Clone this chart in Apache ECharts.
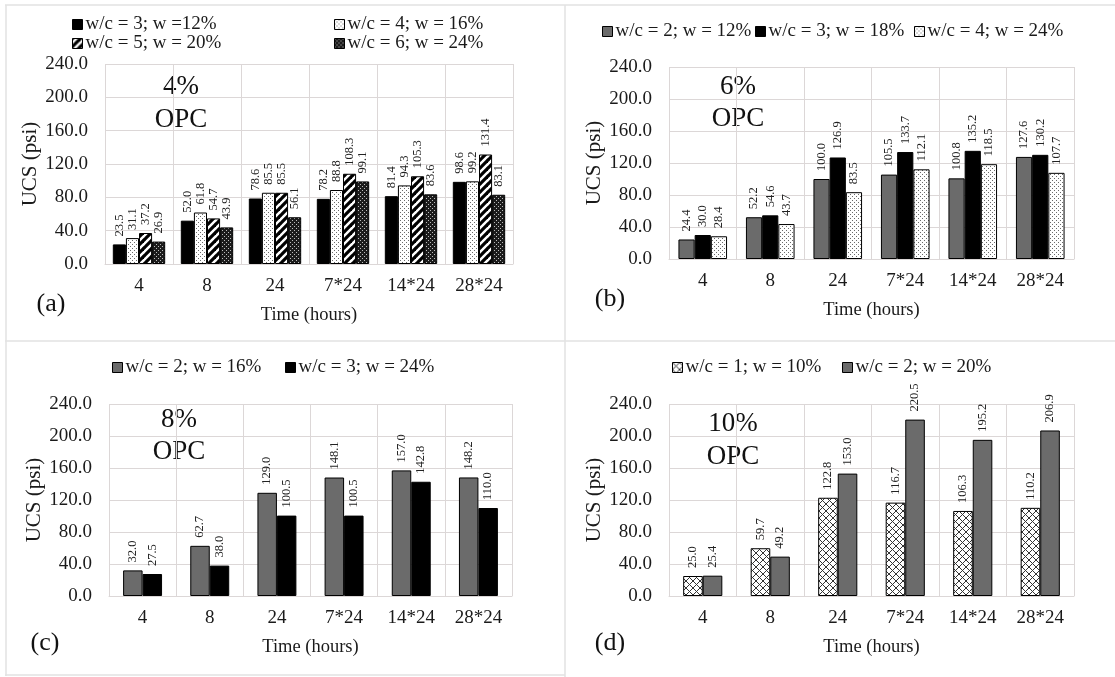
<!DOCTYPE html>
<html>
<head>
<meta charset="utf-8">
<script src="https://cdn.jsdelivr.net/npm/echarts@6/dist/echarts.min.js"></script>
<style>
html,body{margin:0;padding:0;background:#fff;}
#chart{width:1115px;height:677px;}
</style>
</head>
<body>
<div id="chart"></div>
<script>
// ---------- data ----------
const categories = ['4', '8', '24', '7*24', '14*24', '28*24'];
const yMin = 0, yMax = 240, yInterval = 40;

const a_names = ['w/c = 3; w =12%', 'w/c = 4; w = 16%', 'w/c = 5; w = 20%', 'w/c = 6; w = 24%'];
const a_wc3 = [23.5, 52.0, 78.6, 78.2, 81.4, 98.6];
const a_wc4 = [31.1, 61.8, 85.5, 88.8, 94.3, 99.2];
const a_wc5 = [37.2, 54.7, 85.5, 108.3, 105.3, 131.4];
const a_wc6 = [26.9, 43.9, 56.1, 99.1, 83.6, 83.1];

const b_names = ['w/c = 2; w = 12%', 'w/c = 3; w = 18%', 'w/c = 4; w = 24%'];
const b_wc2 = [24.4, 52.2, 100.0, 105.5, 100.8, 127.6];
const b_wc3 = [30.0, 54.6, 126.9, 133.7, 135.2, 130.2];
const b_wc4 = [28.4, 43.7, 83.5, 112.1, 118.5, 107.7];

const c_names = ['w/c = 2; w = 16%', 'w/c = 3; w = 24%'];
const c_wc2 = [32.0, 62.7, 129.0, 148.1, 157.0, 148.2];
const c_wc3 = [27.5, 38.0, 100.5, 100.5, 142.8, 110.0];

const d_names = ['w/c = 1; w = 10%', 'w/c = 2; w = 20%'];
const d_wc1 = [25.0, 59.7, 122.8, 116.7, 106.3, 110.2];
const d_wc2 = [25.4, 49.2, 153.0, 220.5, 195.2, 206.9];

const panelTitles = [['4%', 'OPC'], ['6%', 'OPC'], ['8%', 'OPC'], ['10%', 'OPC']];
const panelLetters = ['(a)', '(b)', '(c)', '(d)'];
const xName = 'Time (hours)';
const yName = 'UCS (psi)';

// ---------- patterns ----------
function pat(kind) {
  const c = document.createElement('canvas');
  const ctx = c.getContext('2d');
  if (kind === 'dots') {
    c.width = 4; c.height = 4;
    ctx.fillStyle = '#fff'; ctx.fillRect(0, 0, 4, 4);
    ctx.fillStyle = '#6a6a6a';
    ctx.fillRect(0, 0, 1, 1); ctx.fillRect(2, 2, 1, 1);
  } else if (kind === 'stripes') {
    c.width = 8; c.height = 8;
    ctx.fillStyle = '#fff'; ctx.fillRect(0, 0, 8, 8);
    ctx.strokeStyle = '#000'; ctx.lineWidth = 3.2;
    for (let o = -8; o <= 8; o += 8) {
      ctx.beginPath(); ctx.moveTo(o - 1, 9); ctx.lineTo(o + 9, -1); ctx.stroke();
    }
  } else if (kind === 'darkdots') {
    c.width = 4; c.height = 4;
    ctx.fillStyle = '#1c1c1c'; ctx.fillRect(0, 0, 4, 4);
    ctx.fillStyle = '#bdbdbd';
    ctx.fillRect(0, 0, 1, 1); ctx.fillRect(2, 2, 1, 1);
  } else if (kind === 'cross') {
    c.width = 7; c.height = 7;
    ctx.fillStyle = '#fff'; ctx.fillRect(0, 0, 7, 7);
    ctx.strokeStyle = '#333'; ctx.lineWidth = 1;
    for (let o = -7; o <= 7; o += 7) {
      ctx.beginPath(); ctx.moveTo(o, 7); ctx.lineTo(o + 7, 0); ctx.stroke();
      ctx.beginPath(); ctx.moveTo(o, 0); ctx.lineTo(o + 7, 7); ctx.stroke();
    }
  }
  return { image: c, repeat: 'repeat' };
}
const BLACK = '#000000';
const GRAY = '#6b6b6b';

const FONT = 'Liberation Serif';
const TXT = '#1a1a1a';
const gridLineColor = '#dcd7d7';

const grids = [
  { left: 105, top: 64, width: 408, height: 200 },
  { left: 669, top: 67, width: 405, height: 192 },
  { left: 109, top: 404, width: 403, height: 192 },
  { left: 669, top: 404, width: 405, height: 192 }
];

const xAxes = grids.map((g, i) => ({
  type: 'category', gridIndex: i, data: categories,
  name: xName, nameLocation: 'middle', nameGap: 42,
  nameTextStyle: { fontFamily: FONT, fontSize: 18.5, color: TXT },
  axisLine: { show: true, lineStyle: { color: gridLineColor } },
  axisTick: { show: false },
  axisLabel: { fontFamily: FONT, fontSize: 19, color: TXT, margin: 13 },
  splitLine: { show: true, lineStyle: { color: gridLineColor, width: 1 } }
}));
const yAxes = grids.map((g, i) => ({
  type: 'value', gridIndex: i, min: yMin, max: yMax, interval: yInterval,
  name: yName, nameLocation: 'middle', nameGap: 62,
  nameTextStyle: { fontFamily: FONT, fontSize: 21, color: TXT },
  axisLine: { show: false }, axisTick: { show: false },
  axisLabel: { fontFamily: FONT, fontSize: 19, color: TXT, margin: 17,
    formatter: v => v.toFixed(1) },
  splitLine: { show: true, lineStyle: { color: gridLineColor, width: 1 } }
}));

const labelCfg = {
  show: true, position: 'top', rotate: 90, align: 'left', verticalAlign: 'middle',
  distance: 8, fontFamily: FONT, fontSize: 12.5, color: '#222',
  formatter: p => p.value.toFixed(1)
};

function bar(name, data, gi, fill, gap) {
  return {
    type: 'bar', name, data, xAxisIndex: gi, yAxisIndex: gi,
    barGap: '0%', barCategoryGap: gap,
    itemStyle: { color: fill, borderColor: '#000', borderWidth: 1 },
    label: labelCfg, emphasis: { disabled: true }, animation: false
  };
}

const series = [
  bar(a_names[0], a_wc3, 0, BLACK, '23%'),
  bar(a_names[1], a_wc4, 0, pat('dots'), '23%'),
  bar(a_names[2], a_wc5, 0, pat('stripes'), '23%'),
  bar(a_names[3], a_wc6, 0, pat('darkdots'), '23%'),
  bar(b_names[0], b_wc2, 1, GRAY, '28%'),
  bar(b_names[1], b_wc3, 1, BLACK, '28%'),
  bar(b_names[2], b_wc4, 1, pat('dots'), '28%'),
  bar(c_names[0], c_wc2, 2, GRAY, '42%'),
  bar(c_names[1], c_wc3, 2, BLACK, '42%'),
  bar(d_names[0], d_wc1, 3, pat('cross'), '42%'),
  bar(d_names[1], d_wc2, 3, GRAY, '42%')
];

// legend item positions (left, center y)
const legendPos = [
  [a_names[0], 72, 25], [a_names[1], 334, 25], [a_names[2], 72, 44], [a_names[3], 334, 44],
  [b_names[0], 602, 32], [b_names[1], 755, 32], [b_names[2], 914, 32],
  [c_names[0], 112, 368], [c_names[1], 285, 368],
  [d_names[0], 672, 368], [d_names[1], 842, 368]
];
const legends = legendPos.map(([n, l, cy]) => ({
  data: [n], left: l, top: cy - 10, padding: 0, itemGap: 0,
  icon: 'rect', itemWidth: 10, itemHeight: 10,
  itemStyle: { borderColor: '#000', borderWidth: 1 },
  textStyle: { fontFamily: FONT, fontSize: 19, color: TXT, padding: [0, 0, 0, -2] },
  selectedMode: false
}));

const titlePos = [[181, 87, 120], [738, 87, 119], [179, 420, 452], [733, 424, 457]];
const letterPos = [[51, 304], [610, 299], [45, 643], [610, 643]];
const graphics = [];
titlePos.forEach(([x, y1, y2], i) => {
  graphics.push({ type: 'text', x, y: y1, style: { text: panelTitles[i][0], fontFamily: FONT, fontSize: 27, fill: '#111', align: 'center', verticalAlign: 'middle' } });
  graphics.push({ type: 'text', x, y: y2, style: { text: panelTitles[i][1], fontFamily: FONT, fontSize: 27, fill: '#111', align: 'center', verticalAlign: 'middle' } });
});
letterPos.forEach(([x, y], i) => {
  graphics.push({ type: 'text', x, y, style: { text: panelLetters[i], fontFamily: FONT, fontSize: 26, fill: '#111', align: 'center', verticalAlign: 'middle' } });
});
// panel frames
const frameColor = '#e2e2e2';
[[5, 5, 1115, 5], [6, 5, 6, 676], [565, 5, 565, 677], [5, 341, 1115, 341], [5, 675, 565, 675]].forEach(([x1, y1, x2, y2]) => {
  graphics.push({ type: 'line', shape: { x1, y1, x2, y2 }, style: { stroke: frameColor, lineWidth: 1.5 }, silent: true });
});

const chart = echarts.init(document.getElementById('chart'));
chart.setOption({
  animation: false,
  backgroundColor: '#fff',
  grid: grids,
  xAxis: xAxes,
  yAxis: yAxes,
  legend: legends,
  series,
  graphic: graphics
});
</script>
</body>
</html>
